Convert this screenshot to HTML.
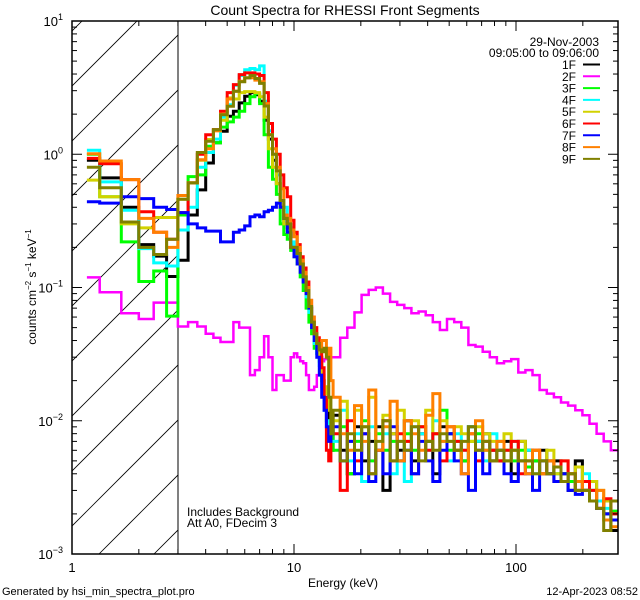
<!DOCTYPE html>
<html><head><meta charset="utf-8"><title>Count Spectra for RHESSI Front Segments</title>
<style>
html,body{margin:0;padding:0;background:#fff;}
svg{display:block;font-family:"Liberation Sans",sans-serif;}
</style></head>
<body>
<svg id="chart" width="640" height="600" viewBox="0 0 640 600" xmlns="http://www.w3.org/2000/svg">
<rect x="0" y="0" width="640" height="600" fill="#fff"/>
<defs><clipPath id="plotclip"><rect x="72" y="21" width="546" height="533"/></clipPath>
<clipPath id="hatchclip"><rect x="72" y="21" width="106" height="533"/></clipPath></defs>
<text x="345" y="15" font-size="14" text-anchor="middle">Count Spectra for RHESSI Front Segments</text>
<g id="hatch" clip-path="url(#hatchclip)"></g>
<line x1="178" y1="21" x2="178" y2="554" stroke="#000" stroke-width="1"/>
<g id="series" clip-path="url(#plotclip)"></g>
<g id="axes"></g>
<g id="legend">
<text x="599" y="46" font-size="12" text-anchor="end">29-Nov-2003</text>
<text x="599" y="57" font-size="12" text-anchor="end">09:05:00 to 09:06:00</text>
</g>
<text x="187" y="516" font-size="12">Includes Background</text>
<text x="187" y="527" font-size="12">Att A0, FDecim 3</text>
<text x="343" y="587" font-size="12" text-anchor="middle">Energy (keV)</text>
<text transform="translate(36,287) rotate(-90)" font-size="12" text-anchor="middle">counts cm<tspan font-size="8" dy="-5">−2</tspan><tspan dy="5"> s</tspan><tspan font-size="8" dy="-5">−1</tspan><tspan dy="5"> keV</tspan><tspan font-size="8" dy="-5">−1</tspan></text>
<text x="2" y="595" font-size="11">Generated by hsi_min_spectra_plot.pro</text>
<text x="638" y="595" font-size="11" text-anchor="end">12-Apr-2023 08:52</text>
</svg>
<script>
// ---- data (values in units of 1e-3 counts cm^-2 s^-1 keV^-1) ----
const seriesNames = ["1F","2F","3F","4F","5F","6F","7F","8F","9F"];
const seriesColors = ["#000000","#ff00ff","#00ff00","#00ffff","#d2d200","#ff0000","#0000ff","#ff8000","#808000"];
const yTickExponents = [1,0,-1,-2,-3];
const xTickLabels = ["1","10","100"];
const xTickValues = [1,10,100];
// energy bins: 1/3 keV from 7/6 to 15 keV, then 40 log bins to 288 keV
const lowEdgeStart = 7/6, linStep = 1/3, linEnd = 15, logEnd = 288, logBins = 40;
const s1F = [900,665,400,210,172,121,160,350,540,860,1220,1490,1930,2100,2430,2720,2900,2800,2500,1800,1300,900,600,400,300,280,200,
 200,180,150,120,100,70,55,45,40,30,20,15,12,10,6,
 11,6,4,9,5,7,9,3,8,6,10,5,8,7,4,9,8,6,5,9,7,8,6,5,7,4,7,6,5,6,4,5,4,3,5,3,3.5,2.5,2,1.5];
const s2F = [119,92,64,58,77,77,51,55,51,45,42,39,39,55,50,50,22,24,30,43,30,17,22,22,20,20,30,
 32,30,28,27,22,17,17,18,22,26,28,29,29,30,30,
 30,42,50,65,88,96,100,90,78,74,70,64,66,62,55,48,58,55,50,37,36,33,30,27,28,29,23,24,22,17,16,15,13.7,13,12,11,9.5,8,7,6];
const s3F = [1000,480,220,111,133,61,350,680,700,1150,1220,1600,1750,1900,2100,2400,2700,2850,2400,1400,800,650,500,300,250,230,190,
 170,150,120,95,70,55,45,35,32,28,20,14,10,8,9,
 6,9,4,7,10,5,8,6,7,5,8,6,9,7,8,12,6,7,5,7,8,6,5,7,6,5,6,4.5,5,4,5,4,4,3.5,3.5,3,3,2.5,2,2.1];
const s4F = [1070,620,380,196,153,145,270,400,800,1030,1300,1900,2350,3300,3900,4300,4400,4300,4600,2500,1500,1000,700,450,400,300,220,
 190,170,140,110,85,65,50,38,32,26,18,12,10,8,7,
 7,12,5,8,3.5,9,6,8,4,7,3.5,9,8,6,10,7,5,8,6,9,7,5,8,6,5,7,5,6,4,5,5,4,3.5,4,3,4,3,2.5,2.2,1.8];
const s5F = [640,480,300,280,335,335,460,610,900,1290,1500,1800,2650,2600,2900,2950,2950,2900,2700,1900,1100,800,600,400,300,260,200,
 200,180,150,120,90,70,55,45,38,30,22,16,18,12,9,
 10,14,7,12,9,15,6,11,8,12,7,10,9,12,8,10,7,9,8,7,9,8,7,6,8,6,7,5,6,5,6,4,5,4,4.5,3.5,3.5,3,2.5,2];
const s6F = [930,850,645,370,260,230,365,610,1000,1400,1530,2100,2900,3330,3960,4080,4080,4000,3900,2900,1700,1300,1000,700,560,480,320,
 260,210,170,140,110,80,60,50,42,34,25,15,6,5,8,
 8,3,10,5,8,4,6,10,5,8,7,4,9,6,8,5,9,7,6,8,5,7,6,5,6,7,4,5,6,4,5,3.5,5,4,3,3.5,3,2.2,2.6,2];
const s7F = [440,430,480,465,400,385,365,300,280,265,265,220,220,260,270,290,340,350,340,370,380,400,430,400,330,260,200,
 170,150,130,110,90,70,50,40,30,22,15,12,9,7,8,
 9,5,7,4,8,3.5,6,4,9,5,6,4,7,5,3.5,6,8,5,4,3,6,4,5,6,4,3.5,5,4,3,5,4,3.5,4,3,2.8,3,2.5,2.2,2,1.8];
const s8F = [1010,890,645,330,260,200,490,610,910,1100,1500,2000,2600,2970,3530,3750,3750,3600,3500,2400,1400,1100,800,550,350,330,270,
 240,200,160,130,100,80,60,45,38,34,40,40,30,35,20,
 15,8,6,13,7,17,6,9,14,5,10,8,6,11,16,7,9,6,4,8,10,6,5,7,5,6,5,4,6,4,5,4.5,3.5,4,3.5,3,2.5,3,1.8,1.6];
const s9F = [800,560,310,200,177,230,460,610,1030,1250,1530,1980,2290,2970,3500,3740,3900,3700,3400,2300,1400,1000,750,450,330,300,200,
 200,180,150,120,95,72,55,45,38,34,33,35,30,15,8,
 12,5,8,6,9,4,7,10,5,7,6,9,5,7,6,8,7,6,7,9,6,7,5,6,5,6,5,5,4,5,4,4.5,3.5,4,3,3,2.5,2.2,1.5,2.5];
const seriesData = [s1F,s2F,s3F,s4F,s5F,s6F,s7F,s8F,s9F];

// ---- axes ----
const X0 = 72, X1 = 618, Y0 = 554, Y1 = 21;
const xDec = 222, yTop = 1, yBot = -3;
function xs(e){ return X0 + xDec*Math.log10(e); }
function ys(v){ return Y0 - (Math.log10(v) - yBot)/(yTop - yBot)*(Y0 - Y1); }
const NS = "http://www.w3.org/2000/svg";
function mk(tag, attrs, parent){ const el = document.createElementNS(NS, tag); for (const k in attrs) el.setAttribute(k, attrs[k]); parent.appendChild(el); return el; }

// energy edges
const edges = [lowEdgeStart];
for (let k = 4; k <= Math.round(linEnd*3); k++) edges.push(k*linStep);
const ratio = Math.pow(logEnd/linEnd, 1/logBins);
for (let i = 1; i <= logBins; i++) edges.push(linEnd*Math.pow(ratio, i));

// hatch
const hatch = document.getElementById('hatch');
for (let c = 48; c < 800; c += 55) {
  const ln = mk('line', {x1: c-600, y1: 600, x2: c, y2: 0, stroke:'#000', 'stroke-width':'0.8'}, hatch);
  
  
}

// series
const sg = document.getElementById('series');
seriesData.forEach((vals, si) => {
  let d = '';
  for (let i = 0; i < vals.length && i+1 < edges.length; i++) {
    const y = ys(vals[i]/1000).toFixed(1);
    const xa = xs(edges[i]).toFixed(1), xb = xs(edges[i+1]).toFixed(1);
    d += (i === 0 ? 'M' : 'L') + xa + ' ' + y + ' L' + xb + ' ' + y + ' ';
  }
  const p = mk('path', {d: d, fill:'none', stroke: seriesColors[si], 'stroke-width': si===1 ? 2.5 : 3, 'stroke-linejoin':'miter'}, sg);
  
  
});

// axes frame & ticks
const ax = document.getElementById('axes');
const frame = mk('rect', {x:X0, y:Y1, width:X1-X0, height:Y0-Y1, fill:'none', stroke:'#000', 'stroke-width':'1.5'}, ax);


// y ticks
for (let e = yBot; e <= yTop; e++) {
  for (let m = 1; m <= 9; m++) {
    if (e === yTop && m > 1) break;
    const y = ys(m*Math.pow(10, e));
    const len = m === 1 ? 10 : 5;
    mk('line', {x1:X0, y1:y, x2:X0+len, y2:y, stroke:'#000', 'stroke-width':'1'}, ax);
    mk('line', {x1:X1, y1:y, x2:X1-len, y2:y, stroke:'#000', 'stroke-width':'1'}, ax);
  }
}
yTickExponents.forEach(e => {
  const t = mk('text', {x: 63, y: ys(Math.pow(10,e)) + 5, 'font-size':'13', 'text-anchor':'end'}, ax);
  
  
  t.textContent = '10';
  const sup = mk('tspan', {'font-size':'9', dy:'-6'}, t);
  sup.textContent = e < 0 ? '−' + (-e) : String(e);
});
// x ticks
for (let dec = 0; dec <= 2; dec++) {
  for (let m = 1; m <= 9; m++) {
    const v = m*Math.pow(10, dec);
    const x = xs(v);
    if (x > X1) break;
    const len = m === 1 ? 10 : 5;
    mk('line', {x1:x, y1:Y0, x2:x, y2:Y0-len, stroke:'#000', 'stroke-width':'1'}, ax);
    mk('line', {x1:x, y1:Y1, x2:x, y2:Y1+len, stroke:'#000', 'stroke-width':'1'}, ax);
  }
}
xTickValues.forEach((v, i) => {
  const t = mk('text', {x: xs(v), y: 572, 'font-size':'13', 'text-anchor':'middle'}, ax);
  
  
  t.textContent = xTickLabels[i];
});

// legend entries
const lg = document.getElementById('legend');
seriesNames.forEach((n, i) => {
  const y = 64.5 + i*11.8;
  const g = mk('g', {}, lg);
  
  
  const t = mk('text', {x: 576, y: y+4.5, 'font-size':'12', 'text-anchor':'end'}, g);
  t.textContent = n;
  mk('line', {x1:583, y1:y, x2:600, y2:y, stroke: seriesColors[i], 'stroke-width':'2'}, g);
});
</script>
</body></html>
